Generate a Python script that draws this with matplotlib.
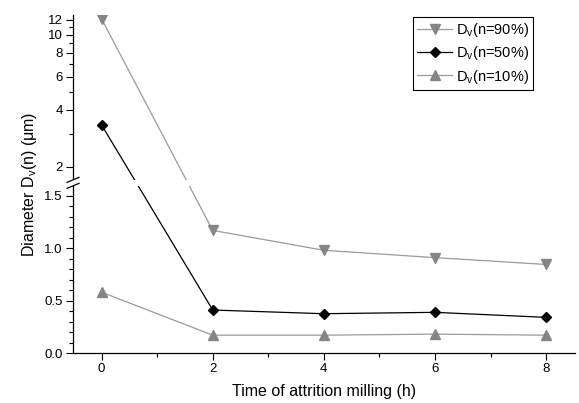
import numpy as np
import matplotlib
matplotlib.use("Agg")
import matplotlib.pyplot as plt
from matplotlib.ticker import FixedLocator, FixedFormatter
import matplotlib.transforms as mtransforms

plt.rcParams['font.family'] = ['Liberation Sans', 'DejaVu Sans']
plt.rcParams['mathtext.fontset'] = 'custom'
plt.rcParams['mathtext.rm'] = 'Liberation Sans'
plt.rcParams['mathtext.it'] = 'Liberation Sans:italic'

# ---- data ----
time_h = [0, 2, 4, 6, 8]
d90 = [12.1, 1.17, 0.98, 0.91, 0.845]
d50 = [3.33, 0.41, 0.375, 0.388, 0.34]
d10 = [0.58, 0.17, 0.17, 0.18, 0.17]
labels = [r'D$_\mathrm{v}$(n=90%)', r'D$_\mathrm{v}$(n=50%)', r'D$_\mathrm{v}$(n=10%)']

y_major = [0.0, 0.5, 1.0, 1.5, 2, 4, 6, 8, 10, 12]
y_major_labels = ['0.0', '0.5', '1.0', '1.5', '2', '4', '6', '8', '10', '12']
y_minor = [0.1, 0.2, 0.3, 0.4, 0.6, 0.7, 0.8, 0.9, 1.1, 1.2, 1.3, 1.4, 3, 5, 7, 9, 11]
x_major = [0, 2, 4, 6, 8]
x_minor = [1, 3, 5, 7]

# ---- broken scale: linear below L, log above U ----
L = 1.595
U = 1.706
A = 1.233
B = 1.805
uU = A + B * np.log10(U)

def forward(y):
    y = np.asarray(y, dtype=float)
    logpart = A + B * np.log10(np.clip(y, 1e-9, None))
    mid = L + (y - L) * (uU - L) / (U - L)
    return np.where(y <= L, y, np.where(y >= U, logpart, mid))

def inverse(u):
    u = np.asarray(u, dtype=float)
    logpart = 10 ** ((u - A) / B)
    mid = L + (u - L) * (U - L) / (uU - L)
    return np.where(u <= L, u, np.where(u >= uU, logpart, mid))

fig = plt.figure(figsize=(5.79, 4.03), dpi=100)
ax = fig.add_axes([73 / 579, 1 - 353 / 403, (575 - 73) / 579, (353 - 15) / 403])
ax.set_yscale('function', functions=(forward, inverse))

grey_m = '#858585'
grey_l = '#9a9a9a'
ax.plot(time_h, d90, color=grey_l, lw=0.9, marker='v', ms=6.5, mfc=grey_m, mec=grey_m, label=labels[0], zorder=2)
ax.plot(time_h, d50, color='black', lw=0.9, marker='D', ms=5.5, mfc='black', mec='black', label=labels[1], zorder=2)
ax.plot(time_h, d10, color=grey_l, lw=0.9, marker='^', ms=6.5, mfc=grey_m, mec=grey_m, label=labels[2], zorder=2)

ax.set_xlim(-0.515, 8.52)
ax.set_ylim(0, 12.7)

ax.yaxis.set_major_locator(FixedLocator(y_major))
ax.yaxis.set_major_formatter(FixedFormatter(y_major_labels))
ax.yaxis.set_minor_locator(FixedLocator(y_minor))
ax.xaxis.set_major_locator(FixedLocator(x_major))
ax.xaxis.set_minor_locator(FixedLocator(x_minor))

ax.tick_params(axis='both', which='major', direction='out', length=5, width=0.8, labelsize=9.5, pad=2.5)
ax.tick_params(axis='both', which='minor', direction='out', length=3, width=0.8)
ax.spines['top'].set_visible(False)
ax.spines['right'].set_visible(False)
ax.spines['left'].set_linewidth(0.9)
ax.spines['bottom'].set_linewidth(0.9)

# white gap across the break
ax.axhspan(L, U, xmin=-0.03, xmax=1.0, color='white', zorder=3, clip_on=False, lw=0)

# break marks on the y axis
trans = ax.get_yaxis_transform()
for yv in (L, U):
    off1 = mtransforms.ScaledTranslation(-6 / 100, -2.5 / 100, fig.dpi_scale_trans)
    off2 = mtransforms.ScaledTranslation(6 / 100, 2.5 / 100, fig.dpi_scale_trans)
    p1 = (trans + off1).transform((0, yv))
    p2 = (trans + off2).transform((0, yv))
    line = plt.Line2D([p1[0], p2[0]], [p1[1], p2[1]], transform=None, color='black', lw=0.9, zorder=5)
    fig.add_artist(line)

ax.set_xlabel('Time of attrition milling (h)', fontsize=11.5, labelpad=6)
ax.set_ylabel(r'Diameter D$_\mathrm{v}$(n) (μm)', fontsize=11.5, labelpad=4)

leg = ax.legend(loc='upper left', bbox_to_anchor=(413 / 579, 1 - 17 / 403), bbox_transform=fig.transFigure,
                fontsize=10.5, frameon=True, fancybox=False, edgecolor='black', framealpha=1,
                handlelength=2.4, handletextpad=0.25, borderpad=0.3, labelspacing=0.35, borderaxespad=0)
leg.get_frame().set_linewidth(0.8)

fig.savefig('out.png', dpi=100)
